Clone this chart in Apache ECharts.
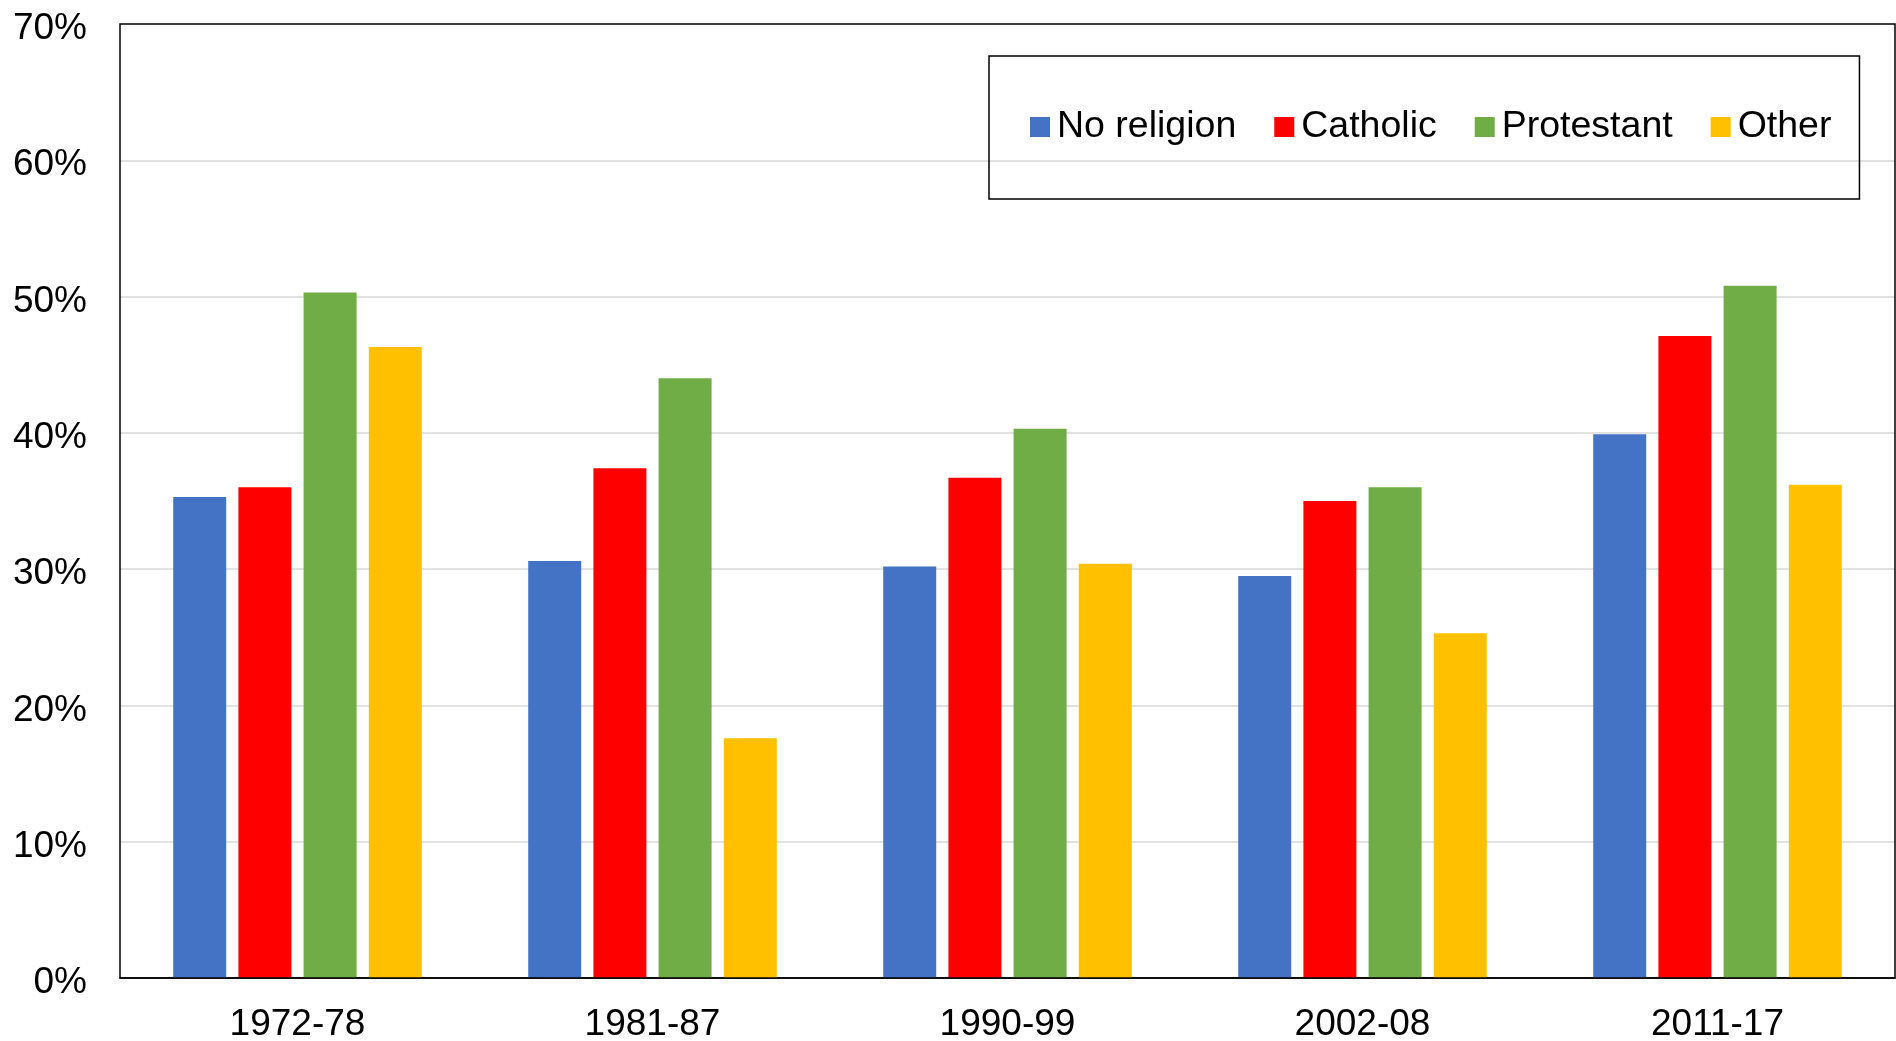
<!DOCTYPE html>
<html>
<head>
<meta charset="utf-8">
<script src="https://cdn.jsdelivr.net/npm/echarts@6/dist/echarts.min.js"></script>
<style>
html,body{margin:0;padding:0;background:#fff;}
#chart{width:1896px;height:1041px;}
</style>
</head>
<body>
<div id="chart"></div>
<script>
const categories = ['1972-78', '1981-87', '1990-99', '2002-08', '2011-17'];
const seriesNames = ['No religion', 'Catholic', 'Protestant', 'Other'];
const noReligion = [35.3, 30.6, 30.2, 29.5, 39.9];
const catholic = [36.0, 37.4, 36.7, 35.0, 47.1];
const protestant = [50.3, 44.0, 40.3, 36.0, 50.8];
const other = [46.3, 17.6, 30.4, 25.3, 36.2];
const colors = ['#4472C4', '#FF0000', '#70AD47', '#FFC000'];

const dataSets = [noReligion, catholic, protestant, other];
const chart = echarts.init(document.getElementById('chart'));
const font = 'Liberation Sans, Arial, sans-serif';
chart.setOption({
  animation: false,
  textStyle: { fontFamily: font },
  grid: {
    left: 120, right: 1, top: 24, bottom: 63,
    containLabel: false, outerBoundsMode: 'none',
    show: true, borderColor: '#000', borderWidth: 1.5, backgroundColor: 'transparent', z: 10
  },
  legend: {
    left: 989, top: 56,
    itemWidth: 20, itemHeight: 20, itemGap: 38,
    padding: [51, 28, 52, 41],
    borderColor: '#000', borderWidth: 1.5,
    icon: 'rect',
    textStyle: { fontSize: 37.5, color: '#000', fontFamily: font, lineHeight: 40, padding: [0, 0, 0, 2] },
    data: seriesNames
  },
  xAxis: {
    type: 'category',
    data: categories,
    axisTick: { show: false },
    axisLine: { show: true, lineStyle: { color: '#000', width: 1.5 } },
    axisLabel: { fontSize: 37, color: '#000', margin: 28, fontFamily: font }
  },
  yAxis: {
    type: 'value',
    min: 0, max: 70, interval: 10,
    axisLine: { show: false },
    axisTick: { show: false },
    axisLabel: {
      fontSize: 37, color: '#000', margin: 33, fontFamily: font,
      formatter: v => '{a|' + v + '%}',
      rich: { a: { fontSize: 37, color: '#000', fontFamily: font, padding: [10, 0, 0, 0] } }
    },
    splitLine: { showMaxLine: false, showMinLine: false, lineStyle: { color: '#d9d9d9', width: 1.5 } }
  },
  series: seriesNames.map((n, i) => ({
    name: n,
    type: 'bar',
    data: dataSets[i],
    barWidth: 53,
    barGap: '23%',
    itemStyle: { color: colors[i] }
  }))
});
</script>
</body>
</html>
